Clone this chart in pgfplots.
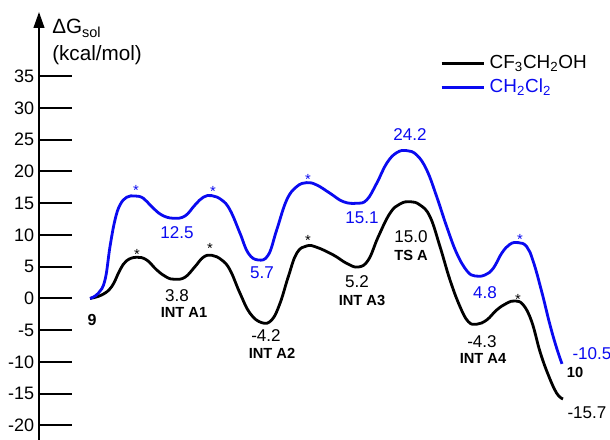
\documentclass[border=0pt]{standalone}
\usepackage{fontspec}
\setmainfont{Liberation Sans}
\usepackage{pgfplots}
\pgfplotsset{compat=1.18}
\usetikzlibrary{arrows.meta}
\definecolor{myblue}{RGB}{10,10,240}
\begin{document}
\begin{tikzpicture}[
  lab/.style={font=\fontsize{12.8}{15}\selectfont, inner sep=0pt},
  bl/.style={font=\fontsize{11}{13}\selectfont\bfseries, inner sep=0pt},
  st/.style={font=\fontsize{11}{13}\selectfont, inner sep=0pt, anchor=base}]
\begin{axis}[
  scale only axis, width=428.25pt, height=321pt,
  xmin=39, xmax=610, ymin=-22.28, ymax=45.12,
  axis x line=none, axis y line=left,
  y axis line style={line width=1.5pt, -{Triangle[length=12pt,width=8pt]}},
  ytick={-20,-15,...,35},
  tick align=inside, major tick length=24.75pt,
  ytick style={line width=1.5pt, black},
  yticklabel style={font=\fontsize{13.5}{15}\selectfont, inner sep=3.5pt},
  /pgf/number format/assume math mode=true,
  clip=false,
  legend style={at={(axis cs:440,38.4)}, anchor=north west, draw=none, fill=none,
    font=\fontsize{14.2}{16}\selectfont, row sep=5pt, column sep=3pt, inner sep=0pt,
    nodes={inner sep=0pt, text height=10pt, text depth=3pt}},
  legend cell align=left,
  legend image code/.code={\draw[#1] (0pt,0pt) -- (32pt,0pt);},
]
\addplot[black, line width=2.1pt, smooth, tension=0.7] coordinates {
  (90,0) (101.7,0.55) (111.7,1.86) (120,4.49) (126.7,5.95) (136.7,6.49)
  (146.7,6.06) (156.7,4.49) (166.7,3.34) (175,3.02) (185,3.34) (195,5.01)
  (203.3,6.49) (211.7,6.80) (221.7,6.06) (230,4.49) (240,0.82) (250,-2.33)
  (261.7,-3.81) (271.7,-3.39) (280,-0.76) (288.3,3.43) (296.7,7.12)
  (306.7,8.27) (316.7,8.06) (333.3,6.85) (347,5.5) (358.3,4.95) (368.3,6.06)
  (378.3,9.73) (390,13.42) (400,14.88) (410,15.24) (420,14.72) (430,12.88)
  (440,8.16) (450,2.91) (460,-1.29) (468.3,-3.65) (476.7,-4.06) (486.7,-3.39)
  (496.7,-1.81) (506.7,-0.76) (515,-0.39) (523.3,-1.02) (531.7,-3.65)
  (540,-8.38) (548.3,-12.05) (556.7,-14.93) (563,-15.83)};
\addlegendentry{CF\textsubscript{3}CH\textsubscript{2}OH}
\addplot[myblue, line width=2.1pt, smooth, tension=0.7] coordinates {
  (90,0) (98.3,0.82) (105,2.91) (110,8.16) (115,12.36) (120,14.72)
  (126.7,15.94) (135,16.14) (143.3,15.78) (151.7,14.46) (161.7,13.15)
  (173.3,12.63) (185,12.99) (195,14.72) (203.3,15.94) (211.7,16.19)
  (221.7,15.51) (230,13.94) (240,10.27) (248.3,7.12) (258.3,6.06)
  (268.3,6.85) (276.7,10.79) (286.7,15.51) (296.7,17.61) (306.7,18.24)
  (316.7,17.87) (330,16.57) (343.3,15.24) (356.7,14.99) (366.7,15.51)
  (376.7,18.14) (386.7,21.29) (396.7,22.96) (406.7,23.28) (416.7,22.60)
  (426.7,20.24) (436.7,16.03) (446.7,11.31) (456.7,7.12) (467,4.33)
  (475,3.54) (485,3.70) (493.3,4.76) (501.7,7.12) (510,8.54) (518.3,8.79)
  (526.7,8.16) (533.3,5.80) (541.7,1.07) (550,-4.17) (556.7,-7.84) (562,-10.3)};
\addlegendentry{\textcolor{myblue}{CH\textsubscript{2}Cl\textsubscript{2}}}

% axis title
\node[anchor=base west, inner sep=0pt, font=\fontsize{15.5}{18}\selectfont] at (axis cs:52,41.7) {ΔG\textsubscript{sol}};
\node[anchor=base west, inner sep=0pt, font=\fontsize{15.5}{18}\selectfont] at (axis cs:52,37.5) {(kcal/mol)};

% stars
\node[st] at (axis cs:137,6.11) {*};
\node[st] at (axis cs:210,7.06) {*};
\node[st] at (axis cs:308,8.31) {*};
\node[st] at (axis cs:518,-0.98) {*};
\node[st, text=myblue] at (axis cs:136,16.19) {*};
\node[st, text=myblue] at (axis cs:213,16.03) {*};
\node[st, text=myblue] at (axis cs:308,17.92) {*};
\node[st, text=myblue] at (axis cs:520,8.47) {*};

% values
\node[lab, text=myblue] at (axis cs:177,10.31) {12.5};
\node[lab, text=myblue] at (axis cs:262,4.02) {5.7};
\node[lab, text=myblue] at (axis cs:362,12.68) {15.1};
\node[lab, text=myblue] at (axis cs:410,25.75) {24.2};
\node[lab, text=myblue] at (axis cs:485,0.87) {4.8};
\node[lab, text=myblue] at (axis cs:592,-8.74) {-10.5};
\node[lab] at (axis cs:177,0.39) {3.8};
\node[lab] at (axis cs:266,-5.91) {-4.2};
\node[lab] at (axis cs:357,2.60) {5.2};
\node[lab] at (axis cs:411,9.69) {15.0};
\node[lab] at (axis cs:482,-6.85) {-4.3};
\node[lab] at (axis cs:587,-18.03) {-15.7};

% names
\node[bl, font=\fontsize{12}{14}\selectfont\bfseries] at (axis cs:92,-3.39) {9};
\node[bl] at (axis cs:184,-2.28) {INT A1};
\node[bl] at (axis cs:272,-8.58) {INT A2};
\node[bl] at (axis cs:362,-0.24) {INT A3};
\node[bl] at (axis cs:411,6.85) {TS A};
\node[bl] at (axis cs:483,-9.37) {INT A4};
\node[bl] at (axis cs:575,-11.73) {10};

\coordinate (bbl) at (axis cs:0,-22.28);
\coordinate (btr) at (axis cs:610,47.0);
\end{axis}
\pgfresetboundingbox
\useasboundingbox (bbl) rectangle (btr);
\end{tikzpicture}
\end{document}
